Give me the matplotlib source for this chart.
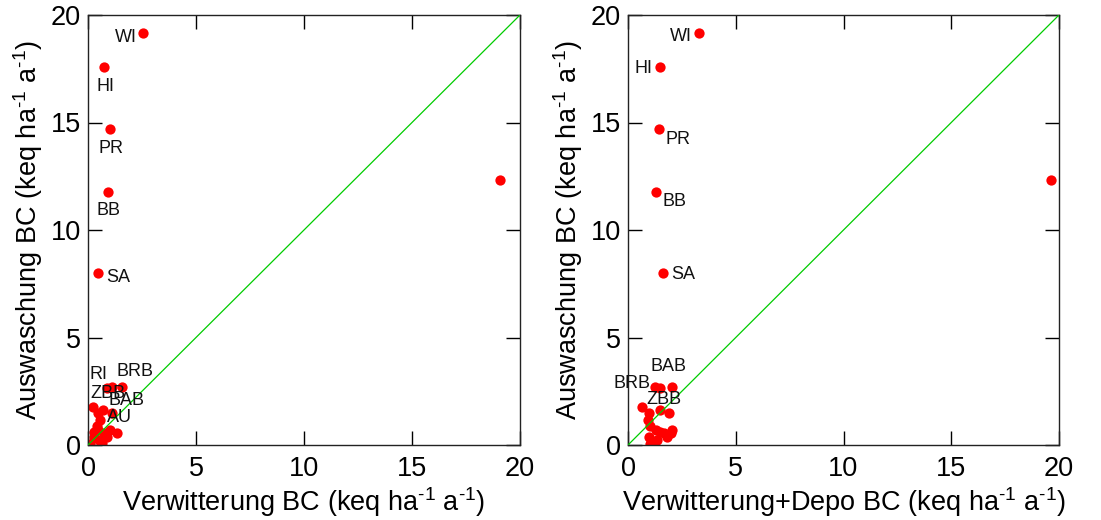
import matplotlib
matplotlib.use("Agg")
import matplotlib.pyplot as plt

plt.rcParams['font.family'] = ['Liberation Sans', 'DejaVu Sans']
plt.rcParams['mathtext.fontset'] = 'custom'
plt.rcParams['mathtext.rm'] = 'Liberation Sans'
plt.rcParams['mathtext.it'] = 'Liberation Sans'

# Site data: leaching vs. weathering and weathering + deposition of base cations
sites = ["WI", "HI", "PR", "BB", "SA", "", "RI", "BRB", "BAB", "ZBB", "AU",
         "", "", "", "", "", "", "", "", "", "", "", "", "", ""]
leaching = [19.15, 17.58, 14.70, 11.77, 8.00, 12.33, 2.65, 2.72, 2.70, 1.63, 1.49,
            1.75, 1.49, 0.90, 0.70, 0.37, 0.37, 0.56, 0.09, 0.05, 0.70, 1.16, 0.54, 0.23, 0.62]
weathering = [2.55, 0.75, 1.02, 0.93, 0.46, 19.07, 0.87, 1.56, 1.10, 0.70, 1.10,
              0.24, 0.45, 0.42, 0.46, 0.88, 0.28, 1.35, 0.65, 0.10, 1.02, 0.56, 0.75, 0.50, 0.30]
weathering_depo = [3.30, 1.48, 1.44, 1.30, 1.62, 19.63, 1.48, 1.25, 2.02, 1.48, 1.90,
                   0.64, 0.97, 1.00, 1.29, 1.82, 0.97, 1.98, 1.21, 1.00, 2.06, 0.93, 1.67, 1.36, 1.50]

axis_ticks = [0, 5, 10, 15, 20]

# label placement per panel: name -> (dx, dy in points, horizontal alignment)
left_labels = {
    "WI": (-4.3, -2.9, "right"), "HI": (0.7, -13.7, "center"), "PR": (0.7, -14.4, "center"),
    "BB": (0.0, -13.7, "center"), "SA": (5.8, -2.9, "left"), "RI": (-5.8, 9.4, "center"),
    "BRB": (9.4, 10.8, "center"), "ZBB": (3.6, 11.5, "center"), "BAB": (10.8, -9.4, "center"),
    "AU": (5.8, -3.6, "center"),
}
right_labels = {
    "WI": (-5.0, -2.2, "right"), "HI": (-5.0, -1.4, "right"), "PR": (5.0, -7.9, "left"),
    "BB": (5.0, -7.2, "left"), "SA": (5.8, -1.4, "left"), "BRB": (-16.6, 2.2, "center"),
    "BAB": (-2.2, 14.4, "center"), "ZBB": (2.9, 7.2, "center"),
}

unit = r" (keq ha$^{\text{-1}}$ a$^{\text{-1}}$)"

fig = plt.figure(figsize=(11.01, 5.20), dpi=100)
ax1 = fig.add_axes([88 / 1101, 75 / 520, 432 / 1101, 430 / 520])
ax2 = fig.add_axes([628 / 1101, 75 / 520, 431 / 1101, 430 / 520])

panels = [
    (ax1, weathering, "Verwitterung BC" + unit, left_labels),
    (ax2, weathering_depo, "Verwitterung+Depo BC" + unit, right_labels),
]

for ax, xvals, xlabel, labels in panels:
    ax.plot(xvals, leaching, linestyle="none", marker="o", markersize=7.4,
            color="#ff0000", markeredgewidth=0, zorder=2)
    ax.plot([0, 20], [0, 20], color="#00cc00", linewidth=0.9, zorder=3)
    for name, xv, yv in zip(sites, xvals, leaching):
        if name in labels:
            dx, dy, ha = labels[name]
            ax.annotate(name, (xv, yv), xytext=(dx, dy), textcoords="offset points",
                        ha=ha, va="center", fontsize=13, color="#111111", zorder=4)
    ax.set_xlim(0, 20)
    ax.set_ylim(0, 20)
    ax.set_xticks(axis_ticks)
    ax.set_yticks(axis_ticks)
    ax.tick_params(direction="in", length=10, width=1, labelsize=19.5,
                   top=True, right=True, pad=5)
    ax.tick_params(axis="x", pad=8)
    ax.set_xlabel(xlabel, fontsize=19.5, labelpad=2)
    ax.set_ylabel("Auswaschung BC" + unit, fontsize=19.5, labelpad=4)
    for sp in ax.spines.values():
        sp.set_linewidth(1.0)
        sp.set_color("#222222")

fig.savefig("out.png", dpi=100)
